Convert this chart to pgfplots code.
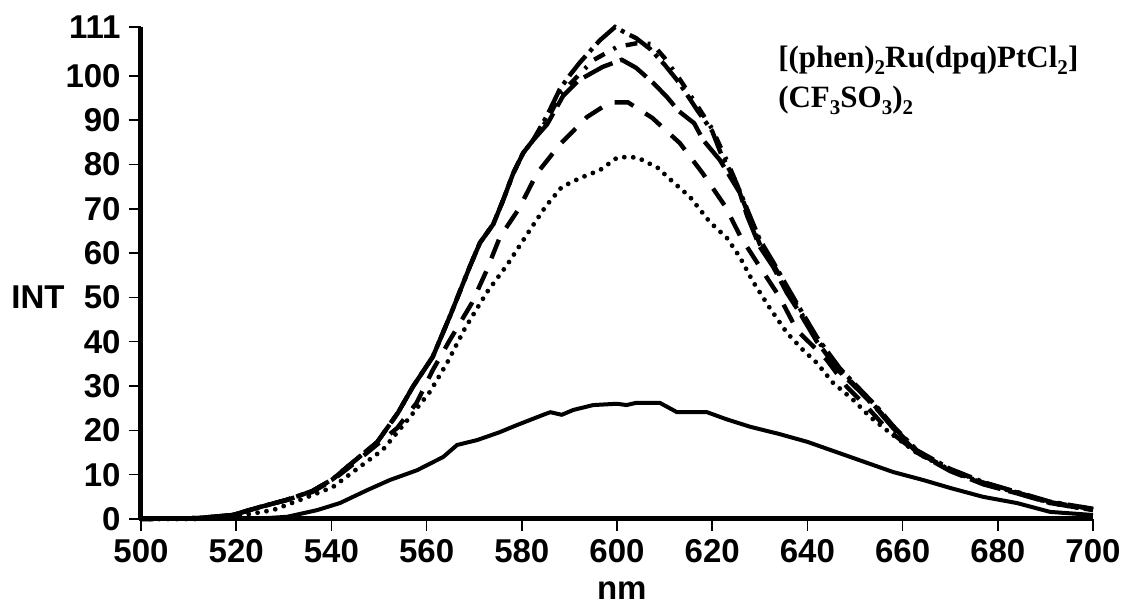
\documentclass[border=0pt]{standalone}
\usepackage{fontspec}
\setmainfont{Liberation Sans}
\newfontfamily\timesfont{Liberation Serif}
\usepackage{pgfplots}
\pgfplotsset{compat=1.18}
\newcommand\sub[1]{\raisebox{-0.22em}{\fontsize{10.5}{11}\selectfont #1}}

\begin{document}
\begin{tikzpicture}
\begin{axis}[
 scale only axis, width=476pt, height=246pt,
 xmin=500, xmax=700, ymin=0, ymax=111,
 xtick={500,520,...,700}, ytick={0,10,20,30,40,50,60,70,80,90,100,111},
 axis x line=bottom, axis y line=left,
 axis line style={-, line width=2.5pt},
 tick align=outside, major tick length=6pt,
 tick style={line width=0.8pt, black},
 ticklabel style={font=\fontsize{16.5}{19}\selectfont\bfseries},
 yticklabel style={inner sep=2pt, xshift=-2pt},
 xticklabel style={inner sep=4pt},
 /pgf/number format/assume math mode=true,
 clip=false,
 xlabel={nm}, ylabel={INT},
 every axis x label/.style={at={(rel axis cs:0.505,0)}, yshift=-36pt, anchor=center, font=\fontsize{16.5}{19}\selectfont\bfseries},
 every axis y label/.style={at={(rel axis cs:0,0.45)}, xshift=-51.5pt, anchor=center, font=\fontsize{16.5}{19}\selectfont\bfseries},
]
% solid
\addplot[black, line width=2pt, line join=round] coordinates {
(500,0) (510,0) (520,0) (525,0.1) (530.7,0.5) (537,2) (541.8,3.6) (547.5,6.5) (552.3,8.8) (558,11) (563.5,14) (566.4,16.7) (570.6,17.8) (575.4,19.6) (579,21.2) (584.5,23.5) (586,24.1) (588.4,23.5) (590.8,24.6) (595,25.7) (600,26) (602,25.7) (604,26.2) (609,26.2) (612.6,24.1) (618.9,24.1) (623,22.5) (628,20.8) (634,19.2) (640,17.4) (649,14) (658,10.6) (664.3,8.8) (670,7) (676.9,5) (684,3.6) (691,1.6) (700,0.9)
};
% dotted
\addplot[black, line width=2.4pt, line cap=round, dash pattern=on 0pt off 4.5pt] coordinates {
(500,0) (512,0) (519.3,0.5) (527.7,2) (533.4,4.3) (540.3,7.2) (547,12.6) (550.8,15.6) (556.5,23) (560.7,28.7) (564.3,35.2) (568.1,43.1) (572.7,51.2) (576.9,57.3) (581.7,65.2) (585,70.5) (588.4,74.9) (592.2,76.9) (596.4,78.7) (600,81.5) (602.3,81.7) (604.4,81.5) (608.6,79.2) (611.8,76) (615.3,72.7) (619.5,67) (623.1,63.4) (625.8,59.1) (628.6,53.5) (632.1,47.6) (635.7,42) (639.1,38.1) (642,35.2) (645.4,30.7) (649.6,26.9) (653.2,23) (657.4,19.4) (663,14.9) (670,11) (676.9,8.1) (684,5.9) (691,3.6) (700,2)
};
% long dash (94)
\addplot[black, line width=2.2pt, dash pattern=on 10pt off 7pt] coordinates {
(500,0) (512,0.2) (519.3,0.9) (525,2.7) (530.6,4.3) (536,6.1) (540.3,8.8) (544.5,12.3) (549.6,16.8) (553.8,20.5) (557.9,26.2) (561.3,33.6) (564.9,40.4) (569.5,48.7) (572.5,55.8) (575.4,63.6) (579.4,70) (583.2,78) (588,84.5) (593.7,90.7) (598.5,94) (602.3,94) (607.4,90.5) (613.2,84.8) (618,78) (622.7,70.6) (626,63.6) (630,56.9) (634.2,50) (637.8,42.6) (644,36) (648.3,29.8) (652.5,25.3) (657,20) (663,15) (670,11.2) (677,8.2) (684,6) (691,3.8) (700,2.2)
};
% dashed (103)
\addplot[black, line width=2.2pt, dash pattern=on 16pt off 4pt] coordinates {
(500,0) (512,0.2) (519.3,0.9) (525,2.7) (530.6,4.3) (536,6.3) (540.3,9) (544.5,12.8) (549.6,17.3) (554,24) (557.1,29.8) (561.3,36.6) (565,46) (569.1,57) (571.2,62.3) (574,66.5) (576.1,72) (578.2,78) (580.3,82.6) (582.4,85.5) (585.3,89) (588.7,95.5) (592,99) (597,102) (601,103.6) (604,101.8) (607.6,98.4) (610.5,95.2) (613,92) (616.2,89.3) (618.1,85.5) (621.6,81) (625.8,73.6) (627.3,68.5) (630,61.4) (632.8,56.9) (635.7,51) (638.4,46.5) (642,40) (646.8,33.2) (651,28.8) (654.6,24.8) (658,20.5) (663,15) (670,10.8) (677,7.8) (684,5.8) (691,3.6) (700,2)
};
% sparse dash-dot (107)
\addplot[black, line width=2.2pt, dash pattern=on 6pt off 5pt on 1.5pt off 5pt] coordinates {
(500,0) (512,0.2) (519.3,0.9) (525,2.7) (530.6,4.3) (536,6.3) (540.3,9) (544.5,12.8) (549.6,17.3) (554,24) (557.1,29.8) (561.3,36.6) (565,46) (569.1,57) (571.2,62.3) (574,66.5) (576.1,72) (578.2,78) (580.3,82.6) (582.4,85.5) (585.3,90) (588,95.5) (590,98) (595,103.5) (600,106.5) (604,107.3) (607.4,107.2) (610,104) (613,99.5) (617,93) (620,88) (623,81) (625,76) (627.3,69.5) (630,62) (632.8,57.5) (635.7,52) (638.4,47) (642,40.5) (646.8,33.6) (651,29) (654.6,25) (658,20.8) (663,15.3) (670,11) (677,8) (684,5.9) (691,3.7) (700,2.1)
};
% dash-dot (111)
\addplot[black, line width=2.2pt, dash pattern=on 13pt off 3pt on 2pt off 3pt] coordinates {
(500,0) (512,0.2) (519.3,0.9) (525,2.7) (530.6,4.3) (536,6.3) (540.3,9) (544.5,12.8) (549.6,17.3) (554,24) (557.1,29.8) (561.3,36.6) (565,46) (569.1,57) (571.2,62.3) (574,66.5) (576.1,72) (578.2,78) (580.3,82.6) (582.4,85.5) (585.3,91) (588,97) (590,100) (592.2,103) (596.4,108) (599.6,111) (602.1,109.5) (604,108.5) (607,106) (610,102.5) (613,98.5) (617,92) (620,87.5) (622,82) (625,76) (627.3,70) (630,63) (632.8,58) (635.7,52.5) (638.4,47.5) (642,41) (646.8,34) (651,29.3) (654.6,25.3) (658,21) (663,15.5) (670,11.3) (677,8.3) (684,6.1) (691,3.9) (700,2.3)
};
\node[anchor=base west, font=\timesfont\fontsize{15.5}{18}\selectfont\bfseries, inner sep=0pt, yshift=-20.5pt] at (rel axis cs:0.669,1) {[(phen)\sub{2}Ru(dpq)PtCl\sub{2}]};
\node[anchor=base west, font=\timesfont\fontsize{15.5}{18}\selectfont\bfseries, inner sep=0pt, yshift=-40.5pt] at (rel axis cs:0.669,1) {(CF\sub{3}SO\sub{3})\sub{2}};
\path (rel axis cs:0,0) ++(-70.5pt,-42pt);
\path (rel axis cs:1,1) ++(21.5pt,13.5pt);
\end{axis}
\end{tikzpicture}
\end{document}
